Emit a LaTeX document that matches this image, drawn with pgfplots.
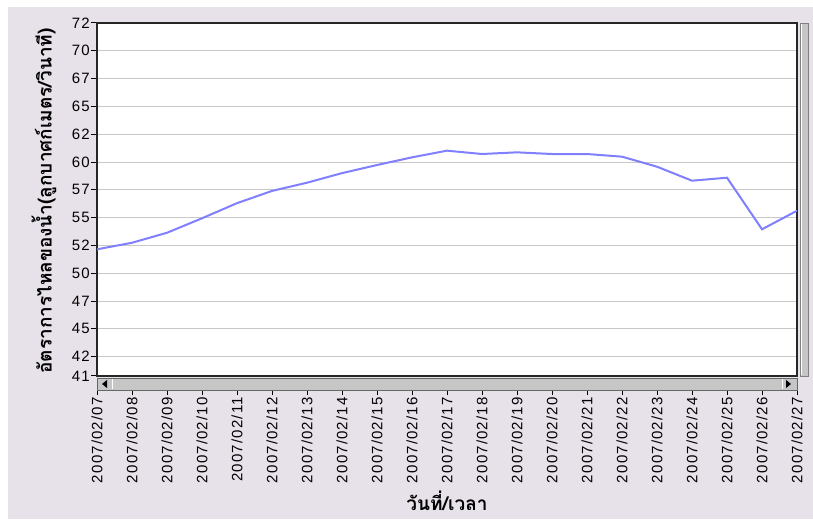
\documentclass[border=0pt]{standalone}
\usepackage{fontspec}
\usepackage{pgfplots}
\pgfplotsset{compat=1.18}
\setmainfont{Liberation Sans}
\newfontfamily\thaifont[Script=Thai]{Loma}
\newfontfamily\tickfont[LetterSpace=8]{Liberation Sans}
\definecolor{bg}{RGB}{231,225,233}
\definecolor{ln}{RGB}{128,128,255}
\definecolor{grd}{RGB}{200,200,200}
\definecolor{sb}{RGB}{198,198,198}
\begin{document}
\begin{tikzpicture}[x=1pt,y=1pt]
\useasboundingbox (0,0) rectangle (813,519);
\fill[white] (0,0) rectangle (813,519);
\fill[bg] (8,0) rectangle (813,512);
\begin{axis}[
  at={(97pt,143pt)}, anchor=south west,
  scale only axis, width=700pt, height=353pt,
  xmin=0, xmax=20, ymin=40.26, ymax=72,
  axis background/.style={fill=white},
  xtick={0,...,20},
  xticklabels={2007/02/07,2007/02/08,2007/02/09,2007/02/10,2007/02/11,2007/02/12,2007/02/13,2007/02/14,2007/02/15,2007/02/16,2007/02/17,2007/02/18,2007/02/19,2007/02/20,2007/02/21,2007/02/22,2007/02/23,2007/02/24,2007/02/25,2007/02/26,2007/02/27},
  ytick={40.26,42,44.5,47,49.5,52,54.5,57,59.5,62,64.5,67,69.5,72},
  yticklabels={41,42,45,47,50,52,55,57,60,62,65,67,70,72},
  xtick pos=bottom, ytick pos=left,
  tick align=outside, major tick length=6pt,
  xtick style={black, line width=1pt, yshift=-13pt},
  ytick style={black, line width=1pt},
  xticklabel shift=14pt,
  x tick label style={font=\tickfont\fontsize{15}{18}\selectfont, rotate=90, anchor=east, inner sep=1pt},
  y tick label style={font=\tickfont\fontsize{15}{18}\selectfont, inner sep=1pt},
  ymajorgrids, grid style={grd, line width=1pt},
  axis line style={black!85, line width=1.2pt},
]
\addplot[ln, line width=2pt] coordinates {
(0,51.65) (1,52.24) (2,53.14) (3,54.44) (4,55.8) (5,56.9) (6,57.64) (7,58.5)
(8,59.23) (9,59.92) (10,60.52) (11,60.22) (12,60.37) (13,60.22) (14,60.22)
(15,59.98) (16,59.08) (17,57.82) (18,58.09) (19,53.45) (20,55.12)
};
\end{axis}
% scrollbars
\draw[black!60, fill=sb] (97,129) rectangle (797,141);
\draw[white, line width=1pt] (112,130) -- (112,140);
\draw[white, line width=1pt] (782,130) -- (782,140);
\fill[black] (102,135) -- (107,139) -- (107,131) -- cycle;
\fill[black] (791,135) -- (786,139) -- (786,131) -- cycle;
\draw[black!50, fill=sb] (800,143) rectangle (808,496);
\draw[white, line width=1pt] (801,144) -- (801,495);
\node[font=\thaifont\bfseries\fontsize{19}{22}\selectfont, inner sep=0pt, anchor=base] at (447,9) {วันที่/เวลา};
\node[font=\thaifont\bfseries\fontsize{19}{22}\selectfont, inner sep=0pt, rotate=90] at (44,318) {อัตราการไหลของน้ำ(ลูกบาศก์เมตร/วินาที)};
\end{tikzpicture}
\end{document}
